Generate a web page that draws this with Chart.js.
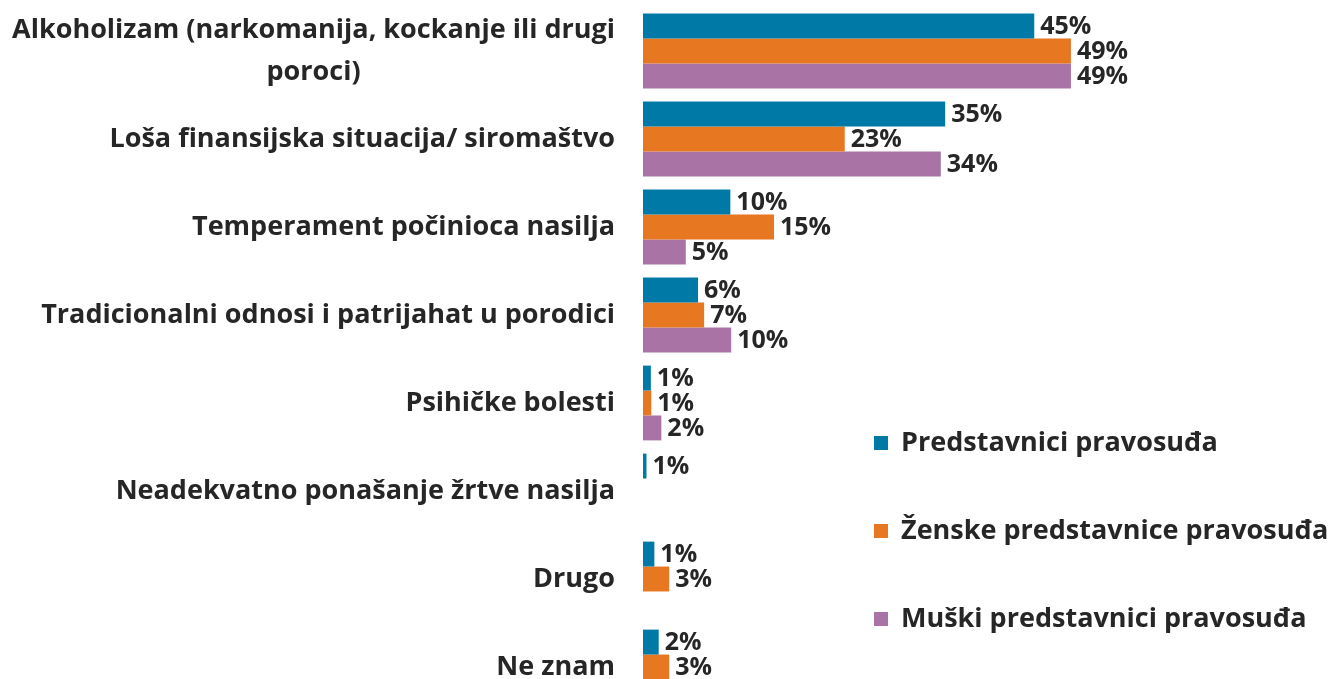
<!DOCTYPE html>
<html>
<head>
<meta charset="utf-8">
<script src="https://cdn.jsdelivr.net/npm/chart.js@4"></script>
<style>
html, body { margin: 0; padding: 0; background: #fff; overflow: hidden; }
#wrap { width: 1331px; height: 720px; position: relative; }
</style>
</head>
<body>
<div id="wrap"><canvas id="chart"></canvas></div>
<script>
const categories = [
    ['Alkoholizam (narkomanija, kockanje ili drugi', 'poroci)'],
    'Loša finansijska situacija/ siromaštvo',
    'Temperament počinioca nasilja',
    'Tradicionalni odnosi i patrijahat u porodici',
    'Psihičke bolesti',
    'Neadekvatno ponašanje žrtve nasilja',
    'Drugo',
    'Ne znam'
];
const seriesNames = ['Predstavnici pravosuđa', 'Ženske predstavnice pravosuđa', 'Muški predstavnici pravosuđa'];
const seriesColors = ['#0079a6', '#e87722', '#a974a5'];

// bar lengths (%)
const svi = [44.8, 34.6, 10, 6.3, 0.9, 0.4, 1.3, 1.8];
const zene = [49, 23.1, 15, 7, 0.95, null, 3, 3];
const muski = [49, 34.1, 4.9, 10.1, 2.1, null, null, null];

// printed value labels
const sviLabels = ['45%', '35%', '10%', '6%', '1%', '1%', '1%', '2%'];
const zeneLabels = ['49%', '23%', '15%', '7%', '1%', '', '3%', '3%'];
const muskiLabels = ['49%', '34%', '5%', '10%', '2%', '', '', ''];

const FONT = 'bold 27px "Open Sans"';
const VALUE_FONT = 'bold 25px "Open Sans"';
const TEXT = '#262626';

const drawTexts = {
    id: 'drawTexts',
    afterDatasetsDraw(chart) {
        const ctx = chart.ctx;
        ctx.save();
        ctx.fillStyle = TEXT;
        ctx.textBaseline = 'middle';

        // value labels at bar ends
        ctx.font = VALUE_FONT;
        ctx.textAlign = 'left';
        chart.data.datasets.forEach((ds, di) => {
            chart.getDatasetMeta(di).data.forEach((bar, i) => {
                if (ds.data[i] == null) return;
                ctx.fillText(ds.valueLabels[i], bar.x + 6, bar.y + 1);
            });
        });

        // category labels, block right aligned, lines centred
        ctx.font = FONT;
        const yScale = chart.scales.y;
        const right = chart.chartArea.left - 28;
        ctx.textAlign = 'center';
        categories.forEach((c, i) => {
            const lines = Array.isArray(c) ? c : [c];
            const w = Math.max(...lines.map(l => ctx.measureText(l).width));
            const cy = yScale.getPixelForValue(i);
            lines.forEach((l, k) => {
                ctx.fillText(l, right - w / 2, cy + (k - (lines.length - 1) / 2) * 42);
            });
        });

        // legend
        ctx.textAlign = 'left';
        seriesNames.forEach((name, i) => {
            const cy = 443 + i * 88;
            ctx.fillStyle = seriesColors[i];
            ctx.fillRect(874, cy - 7, 14, 14);
            ctx.fillStyle = TEXT;
            ctx.fillText(name, 901, cy);
        });
        ctx.restore();
    }
};

const chart = new Chart(document.getElementById('chart').getContext('2d'), {
    type: 'bar',
    data: {
        labels: categories,
        datasets: [
            { label: seriesNames[0], data: svi, valueLabels: sviLabels, backgroundColor: seriesColors[0] },
            { label: seriesNames[1], data: zene, valueLabels: zeneLabels, backgroundColor: seriesColors[1] },
            { label: seriesNames[2], data: muski, valueLabels: muskiLabels, backgroundColor: seriesColors[2] }
        ]
    },
    options: {
        indexAxis: 'y',
        responsive: true,
        maintainAspectRatio: false,
        animation: false,
        layout: { padding: { left: 643, right: 164, top: 7, bottom: 9 } },
        datasets: { bar: { categoryPercentage: 0.85, barPercentage: 1 } },
        scales: {
            x: { display: false, min: 0, max: 60 },
            y: { display: false }
        },
        plugins: {
            legend: { display: false },
            tooltip: { enabled: false }
        }
    },
    plugins: [drawTexts]
});
</script>
</body>
</html>
